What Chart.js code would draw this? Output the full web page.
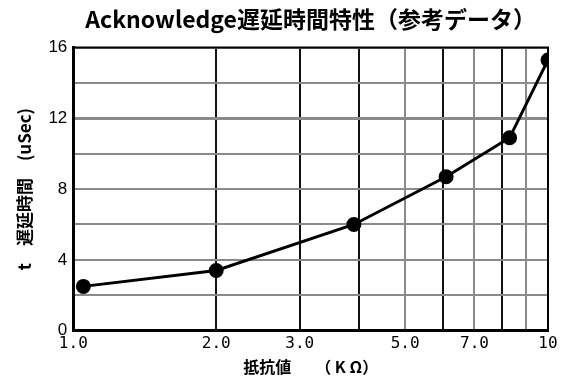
<!DOCTYPE html>
<html>
<head>
<meta charset="utf-8">
<script src="https://cdn.jsdelivr.net/npm/chart.js@4/dist/chart.umd.min.js"></script>
<style>
  html, body { margin: 0; padding: 0; background: #fff; }
  #wrap { width: 562px; height: 381px; }
</style>
</head>
<body>
<div id="wrap"><canvas id="delay"></canvas></div>
<script>
// resistance (kOhm) vs acknowledge delay (uSec)
const resistance = [1.05, 2.0, 3.9, 6.1, 8.3, 10];
const delayUs = [2.5, 3.4, 6.0, 8.7, 10.9, 15.3];
// x grid lines and which of them get a label
const xGridValues = [1, 2, 3, 4, 5, 6, 7, 8, 9, 10];
const xTickLabels = { 1: '1.0', 2: '2.0', 3: '3.0', 5: '5.0', 7: '7.0', 10: '10' };
const yTickLabels = [0, 4, 8, 12, 16];
const darkXLines = [2, 3, 4, 6, 8];

const jpFont = "'Noto Sans CJK JP', 'DejaVu Sans', sans-serif";

// thin frame on top and right of the plot
const frame = {
  id: 'frame',
  afterDraw(chart) {
    const a = chart.chartArea, c = chart.ctx;
    c.save();
    c.strokeStyle = '#000';
    c.lineWidth = 2;
    c.beginPath();
    c.moveTo(a.left, a.top);
    c.lineTo(a.right, a.top);
    c.lineTo(a.right, a.bottom);
    c.stroke();
    c.restore();
  }
};

window.addEventListener('load', function () {
  const ctx = document.getElementById('delay').getContext('2d');
  new Chart(ctx, {
    type: 'line',
    data: {
      datasets: [{
        data: resistance.map((r, i) => ({ x: r, y: delayUs[i] })),
        borderColor: '#000',
        backgroundColor: '#000',
        borderWidth: 3,
        pointRadius: 6,
        pointHoverRadius: 6,
        tension: 0
      }]
    },
    plugins: [frame],
    options: {
      responsive: true,
      maintainAspectRatio: false,
      animation: false,
      layout: { padding: { left: 14, right: 14, top: 5, bottom: 4 } },
      plugins: {
        legend: { display: false },
        tooltip: { enabled: false },
        title: {
          display: true,
          fullSize: false,
          text: 'Acknowledge遅延時間特性（参考データ）',
          color: '#000',
          font: { family: jpFont, size: 23, weight: 'bold' },
          padding: { top: 0, bottom: 15 }
        }
      },
      scales: {
        x: {
          type: 'logarithmic',
          min: 1,
          max: 10,
          afterBuildTicks(scale) {
            scale.ticks = xGridValues.map(v => ({ value: v }));
          },
          ticks: {
            autoSkip: false,
            maxRotation: 0,
            color: '#000',
            padding: 4,
            font: { family: "'DejaVu Sans Mono', monospace", size: 16 },
            callback: v => xTickLabels[v] || ''
          },
          grid: {
            drawTicks: false,
            lineWidth: 2,
            color: c => darkXLines.includes(c.tick && c.tick.value) ? '#111' : '#8a8a8a'
          },
          border: { color: '#000', width: 3 },
          title: {
            display: true,
            text: '抵抗値　　（ K Ω）',
            color: '#000',
            font: { family: jpFont, size: 16, weight: 'bold' },
            padding: { top: 0, bottom: 0 }
          }
        },
        y: {
          min: 0,
          max: 16,
          ticks: {
            stepSize: 2,
            color: '#000',
            padding: 6,
            font: { family: "'Liberation Sans', sans-serif", size: 17 },
            callback: v => yTickLabels.includes(v) ? String(v) : ''
          },
          grid: {
            drawTicks: false,
            lineWidth: c => (c.tick && c.tick.value === 12) ? 3 : 2,
            color: '#8a8a8a'
          },
          border: { color: '#000', width: 3 },
          title: {
            display: true,
            text: 't　遅延時間　(uSec)',
            color: '#000',
            font: { family: jpFont, size: 17, weight: 'bold' },
            padding: { top: 0, bottom: 8 }
          }
        }
      }
    }
  });
});
</script>
</body>
</html>
